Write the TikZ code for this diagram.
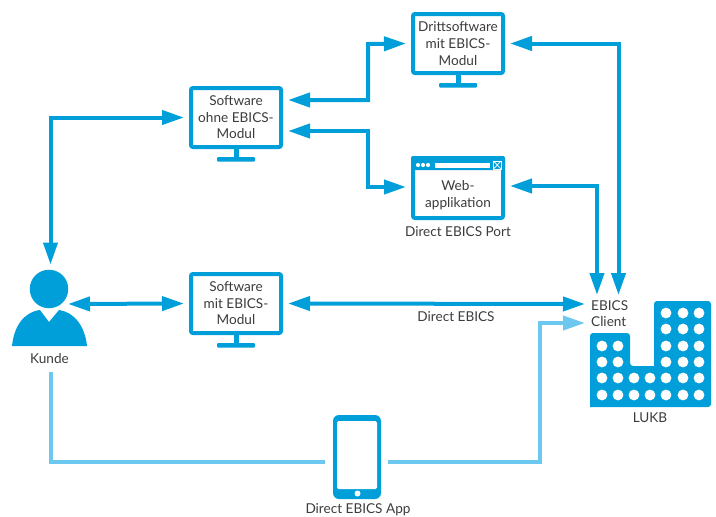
\documentclass[tikz,border=0pt]{standalone}
\usepackage{fontspec}
\setmainfont{Lato}
\usetikzlibrary{arrows.meta,calc}
\definecolor{lukb}{HTML}{009FDA}
\definecolor{lukblight}{HTML}{6CC8EE}
\definecolor{txt}{HTML}{3C3C3C}
\tikzset{
  lbl/.style={font=\fontsize{13.6}{16.6}\selectfont,text=txt,align=center,inner sep=0pt},
  screenbox/.style={draw=lukb,line width=4pt,rounded corners=2pt,fill=white,minimum width=90pt,minimum height=59pt,inner sep=0pt,lbl,execute at begin node=\rule{0pt}{12pt}},
  both/.style={draw=lukb,line width=4pt,{Triangle[length=22pt,width=14pt,fill=lukb]}-{Triangle[length=22pt,width=14pt,fill=lukb]}},
  lightline/.style={draw=lukblight,line width=4pt},
  lightarrow/.style={lightline,-{Triangle[length=22pt,width=14pt,fill=lukblight]}},
  standpart/.style={fill=lukb,draw=none},
  dot/.style={fill=white,draw=none}
}
\newcommand{\stand}[1]{%
  \fill[standpart] ([xshift=-2.5pt]#1.south) rectangle ([shift={(2.5pt,-9pt)}]#1.south);
  \fill[standpart,rounded corners=1pt] ([shift={(-19pt,-8pt)}]#1.south) rectangle ([shift={(19pt,-12.5pt)}]#1.south);
}
\begin{document}
\begin{tikzpicture}[x=1pt,y=-1pt]
\useasboundingbox (0,0) rectangle (716,517);
% monitors
\node[screenbox] (ohne) at (236,117.5) {Software\\ohne EBICS-\\Modul};
\node[screenbox] (dritt) at (458,43.5) {Drittsoftware\\mit EBICS-\\Modul};
\node[screenbox] (mit) at (236,303.5) {Software\\mit EBICS-\\Modul};
\stand{ohne}\stand{dritt}\stand{mit}
% web window
\node[screenbox,minimum height=60pt] (web) at (458,188) {};
\fill[lukb,rounded corners=2pt] (411,156) rectangle (505,170);
\node[lbl] at (458,195) {Web-\\applikation};
\foreach \xx in {418,423,428} \fill[dot] (\xx,165) circle (2.1);
\fill[dot] (435,163) rectangle (490,168);
\draw[white,fill=lukb,line width=0.7pt] (493.5,161) rectangle (501,169);
\draw[white,line width=0.7pt] (493.5,161) -- (501,169) (493.5,169) -- (501,161);
\node[lbl] (port) at (458,232) {Direct EBICS Port};
% person
\node[circle,fill=lukb,inner sep=0pt,minimum size=38.5pt] (kopf) at (49,289) {};
\fill[lukb] (12,346) .. controls (14,326) and (24,312) .. (40,310) -- (49,322) -- (59,310) .. controls (74,312) and (85,326) .. (87,346) -- cycle;
\node[lbl] (kunde) at (49.5,358.5) {Kunde};
% building
\fill[lukb,rounded corners=3pt] (590,407) -- (590,333) -- (630,333) -- (630,366) [sharp corners] -- (654,366) [rounded corners=3pt] -- (654,301) -- (711,301) -- (711,407) [sharp corners] -- cycle;
\foreach \yy in {313,329,346,362,378,395} \foreach \xx in {666,683,699} \fill[dot] (\xx,\yy) circle (5.4);
\foreach \yy in {346,362,378,395} \foreach \xx in {602,618} \fill[dot] (\xx,\yy) circle (5.4);
\foreach \yy in {378,395} \foreach \xx in {634,650} \fill[dot] (\xx,\yy) circle (5.4);
\node[lbl,align=left,anchor=west] (client) at (591,313.5) {EBICS\\Client};
\node[lbl] (lukbname) at (650,418) {LUKB};
% phone
\node[draw=none,fill=lukb,rounded corners=6pt,minimum width=48pt,minimum height=84pt,inner sep=0pt] (phone) at (357,457) {};
\fill[white,rounded corners=1.5pt] (337,421) rectangle (377,489);
\fill[dot] (357.5,493.5) circle (3);
\node[lbl] (app) at (358,510) {Direct EBICS App};
% connectors
\draw[both] ([shift={(1.5,-5)}]kopf.north) |- ([xshift=-5]ohne.west);
\draw[both] ([shift={(19,15)}]kopf.center) -- ([xshift=-5]mit.west);
\draw[both] ([shift={(5,-17.5)}]ohne.east) -| (368,44) -- ([xshift=-5]dritt.west);
\draw[both] ([shift={(5,13.5)}]ohne.east) -| (368,187) -- ([shift={(-5,-1)}]web.west);
\path let \p1=(client.west), \p2=(client.north) in coordinate (cx) at (591+19.5,\y2);
\draw[both] ([xshift=5]dritt.east) -| ([shift={(8,-5)}]cx);
\draw[both] ([shift={(5,-2)}]web.east) -| ([shift={(-13.5,-5)}]cx);
\draw[both] ([xshift=5]mit.east) -- ([shift={(-6,-9.5)}]client.west);
\draw[lightline] ([shift={(1,8)}]kunde.south) |- ([shift={(-8,5)}]phone.west);
\draw[lightarrow] ([shift={(7,5)}]phone.east) -| (540,323) -- ([shift={(-6,9.5)}]client.west);
\node[lbl] (direct) at (456,317) {Direct EBICS};
\end{tikzpicture}
\end{document}
